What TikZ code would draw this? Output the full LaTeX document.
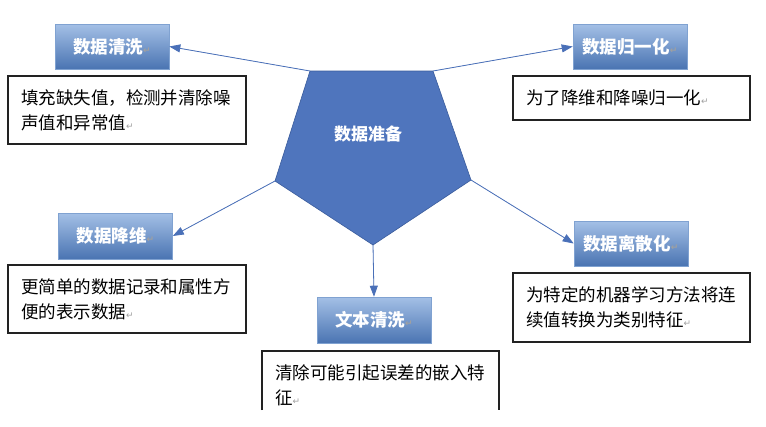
\documentclass[tikz,border=0pt]{standalone}
\usepackage{fontspec}
\setmainfont{Noto Sans CJK SC}
\newfontfamily\symfont{DejaVu Sans}
\usetikzlibrary{arrows.meta}
\definecolor{pentfill}{HTML}{4F75BD}
\definecolor{pentline}{HTML}{3A5C9C}
\definecolor{arrline}{HTML}{4A70B8}
\definecolor{gradtop}{HTML}{A4C0E6}
\definecolor{gradbot}{HTML}{4A74B2}
\definecolor{markgray}{HTML}{A0A0A0}
\definecolor{boxline}{HTML}{222222}
\newcommand{\pmark}{{\symfont\fontsize{9}{9}\selectfont\textcolor{markgray}{↵}}}
\tikzset{
  lbl/.style={minimum width=114pt, minimum height=45pt, top color=gradtop, bottom color=gradbot,
    draw=gradtop!60!gradbot, line width=0.6pt, text=white, inner sep=0pt,
    font=\fontsize{17.5}{20}\selectfont\bfseries},
  desc/.style={minimum width=#1pt, text width=#1pt-26pt, inner xsep=13pt, inner ysep=0pt,
    align=left, font=\fontsize{17.5}{25}\selectfont, text=black},
  descbox/.style={draw=boxline, line width=1.1pt},
  arr/.style={draw=arrline, line width=0.8pt, -{Triangle[length=11pt,width=8pt]}, fill=arrline},
}
\begin{document}
\begin{tikzpicture}[x=1pt,y=-1pt]
\useasboundingbox[fill=white] (0,0) rectangle (766,426);
% pentagon
\coordinate (p1) at (310,71);
\coordinate (p2) at (433,71);
\coordinate (p3) at (471,180);
\coordinate (p4) at (373,245);
\coordinate (p5) at (275,181);
\filldraw[fill=pentfill, draw=pentline, line width=0.6pt] (p1) -- (p2) -- (p3) -- (p4) -- (p5) -- cycle;
\node[text=white, font=\fontsize{17}{20}\selectfont\bfseries] (prep) at (368,134) {数据准备};
% labels
\node[lbl] (clean) at (112,46.5) {数据清洗\pmark};
\node[lbl] (norm) at (630,46.5) {数据归一化\pmark};
\node[lbl, minimum height=46pt] (dimred) at (115.5,236) {数据降维\pmark};
\node[lbl, minimum height=46pt] (textc) at (374,320) {文本清洗\pmark};
\node[lbl] (disc) at (631,243.5) {数据离散化\pmark};
% descriptions
\node[desc=238, minimum height=68pt, descbox] (d1) at (127,110) {填充缺失值，检测并清除噪\\声值和异常值\pmark};
\node[desc=237, minimum height=44pt, descbox] (d2) at (631.5,98) {为了降维和降噪归一化\pmark};
\node[desc=238, minimum height=68pt, descbox] (d3) at (127,299) {更简单的数据记录和属性方\\便的表示数据\pmark};
\node[desc=237, minimum height=69pt, descbox] (d4) at (631.5,307.5) {为特定的机器学习方法将连\\续值转换为类别特征\pmark};
\node[desc=237, minimum height=68pt] (d5) at (380.5,385) {清除可能引起误差的嵌入特\\征\pmark};
\draw[boxline, line width=1.1pt] (262,410) -- (262,351) -- (499,351) -- (499,410);
% arrows
\draw[arr] (p1) -- (clean.east);
\draw[arr] (p2) -- (norm.west);
\draw[arr] (p5) -- (dimred.east);
\draw[arr] (p4) -- (textc.north);
\draw[arr] (p3) -- (disc.west);
\end{tikzpicture}
\end{document}
